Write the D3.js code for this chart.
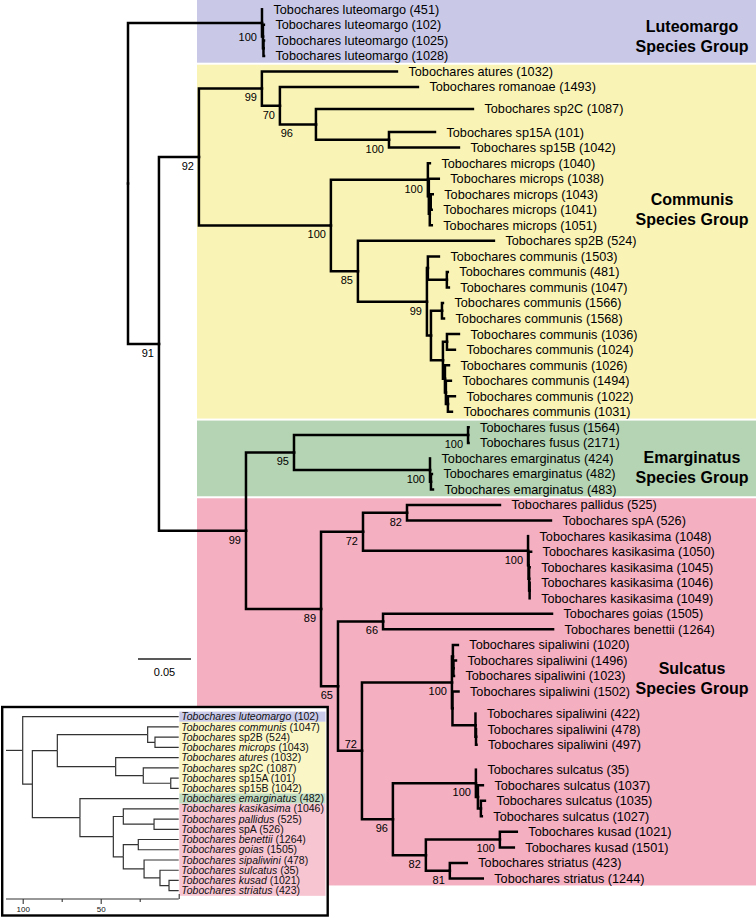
<!DOCTYPE html>
<html><head><meta charset="utf-8">
<script src="https://cdn.jsdelivr.net/npm/d3@7"></script>
<style>
body{margin:0;background:#fff}
svg{display:block;font-family:"Liberation Sans",Arial,Helvetica,sans-serif}
</style>
</head><body>
<svg id="chart" width="756" height="918"></svg>
<script>
// ---------------- DATA ----------------
// main tree rows: [node id, parent id, branch length (subst./site), bootstrap support]
const backboneRoot = [["R", "", 0, null]];
const luteomargoClade = [
  ["LUT", "R", 0.1264, 100],
  ["Tobochares luteomargo (451)", "LUT", 0.0, null],
  ["LUTa", "LUT", 0.0009, null],
  ["Tobochares luteomargo (102)", "LUTa", 0.0009, null],
  ["LUTb", "LUTa", 0.0005, null],
  ["Tobochares luteomargo (1025)", "LUTb", 0.0005, null],
  ["Tobochares luteomargo (1028)", "LUTb", 0.0005, null]
];
const backboneInner = [
  ["N2", "R", 0.0292, 91],
  ["COM", "N2", 0.0377, 92]
];
const communisClade = [
  ["C99", "COM", 0.0594, 99],
  ["Tobochares atures (1032)", "C99", 0.1274, null],
  ["C70", "C99", 0.0170, 70],
  ["Tobochares romanoae (1493)", "C70", 0.1302, null],
  ["C96", "C70", 0.0340, 96],
  ["Tobochares sp2C (1087)", "C96", 0.1481, null],
  ["C15", "C96", 0.0689, 100],
  ["Tobochares sp15A (101)", "C15", 0.0434, null],
  ["Tobochares sp15B (1042)", "C15", 0.0660, null],
  ["C100m", "COM", 0.1245, 100],
  ["MIC", "C100m", 0.0915, 100],
  ["Tobochares microps (1040)", "MIC", 0.0019, null],
  ["Ma", "MIC", 0.0009, null],
  ["Tobochares microps (1038)", "Ma", 0.0094, null],
  ["Mb", "Ma", 0.0009, null],
  ["Mc", "Mb", 0.0009, null],
  ["Tobochares microps (1043)", "Mc", 0.0019, null],
  ["Tobochares microps (1041)", "Mc", 0.0009, null],
  ["Tobochares microps (1051)", "Mb", 0.0019, null],
  ["C85", "C100m", 0.0255, 85],
  ["Tobochares sp2B (524)", "C85", 0.1283, null],
  ["CMN", "C85", 0.0651, 99],
  ["Ca", "CMN", 0.0009, null],
  ["Tobochares communis (1503)", "Ca", 0.0104, null],
  ["Cb", "Ca", 0.0179, null],
  ["Tobochares communis (481)", "Cb", 0.0009, null],
  ["Tobochares communis (1047)", "Cb", 0.0019, null],
  ["Cc", "CMN", 0.0038, null],
  ["Cs", "Cc", 0.0104, null],
  ["Tobochares communis (1566)", "Cs", 0.0009, null],
  ["Tobochares communis (1568)", "Cs", 0.0019, null],
  ["Cd", "Cc", 0.0113, null],
  ["Ce", "Cd", 0.0038, null],
  ["Tobochares communis (1036)", "Ce", 0.0113, null],
  ["Tobochares communis (1024)", "Ce", 0.0075, null],
  ["Cf", "Cd", 0.0019, null],
  ["Tobochares communis (1026)", "Cf", 0.0038, null],
  ["Cg", "Cf", 0.0009, null],
  ["Tobochares communis (1494)", "Cg", 0.0047, null],
  ["Ch", "Cg", 0.0019, null],
  ["Tobochares communis (1022)", "Ch", 0.0066, null],
  ["Tobochares communis (1031)", "Ch", 0.0038, null]
];
const backboneLower = [["ES", "N2", 0.0821, 99]];
const emarginatusClade = [
  ["EM", "ES", 0.0453, 95],
  ["FUS", "EM", 0.1642, 100],
  ["Tobochares fusus (1564)", "FUS", 0.0005, null],
  ["Tobochares fusus (2171)", "FUS", 0.0005, null],
  ["EMA", "EM", 0.1283, 100],
  ["Tobochares emarginatus (424)", "EMA", 0.0, null],
  ["EMb", "EMA", 0.0009, null],
  ["Tobochares emarginatus (482)", "EMb", 0.0009, null],
  ["Tobochares emarginatus (483)", "EMb", 0.0019, null]
];
const sulcatusClade = [
  ["S89", "ES", 0.0708, 89],
  ["S72a", "S89", 0.0396, 72],
  ["S82a", "S72a", 0.0415, 82],
  ["Tobochares pallidus (525)", "S82a", 0.0877, null],
  ["Tobochares spA (526)", "S82a", 0.1358, null],
  ["KAS", "S72a", 0.1557, 100],
  ["Tobochares kasikasima (1048)", "KAS", 0.0, null],
  ["Ka", "KAS", 0.0005, null],
  ["Tobochares kasikasima (1050)", "Ka", 0.0024, null],
  ["Kb", "Ka", 0.0005, null],
  ["Tobochares kasikasima (1045)", "Kb", 0.0005, null],
  ["Kc", "Kb", 0.0005, null],
  ["Tobochares kasikasima (1046)", "Kc", 0.0, null],
  ["Tobochares kasikasima (1049)", "Kc", 0.0, null],
  ["S65", "S89", 0.0160, 65],
  ["S66", "S65", 0.0425, 66],
  ["Tobochares goias (1505)", "S66", 0.1594, null],
  ["Tobochares benettii (1264)", "S66", 0.1604, null],
  ["S72b", "S65", 0.0226, 72],
  ["SIP", "S72b", 0.0849, 100],
  ["Sa", "SIP", 0.0009, null],
  ["Tobochares sipaliwini (1020)", "Sa", 0.0047, null],
  ["Sb", "Sa", 0.0005, null],
  ["Tobochares sipaliwini (1496)", "Sb", 0.0024, null],
  ["Tobochares sipaliwini (1023)", "Sb", 0.0005, null],
  ["Sc", "SIP", 0.0005, null],
  ["Tobochares sipaliwini (1502)", "Sc", 0.0057, null],
  ["Sd", "Sc", 0.0217, null],
  ["Tobochares sipaliwini (422)", "Sd", 0.0, null],
  ["Se", "Sd", 0.0005, null],
  ["Tobochares sipaliwini (478)", "Se", 0.0, null],
  ["Tobochares sipaliwini (497)", "Se", 0.0005, null],
  ["S96", "S72b", 0.0292, 96],
  ["SUL", "S96", 0.0783, 100],
  ["Tobochares sulcatus (35)", "SUL", 0.0, null],
  ["Sula", "SUL", 0.0019, null],
  ["Tobochares sulcatus (1037)", "Sula", 0.0047, null],
  ["Sulb", "Sula", 0.0028, null],
  ["Tobochares sulcatus (1035)", "Sulb", 0.0038, null],
  ["Tobochares sulcatus (1027)", "Sulb", 0.0009, null],
  ["S82b", "S96", 0.0311, 82],
  ["KUS", "S82b", 0.0698, 100],
  ["Tobochares kusad (1021)", "KUS", 0.0160, null],
  ["Tobochares kusad (1501)", "KUS", 0.0132, null],
  ["STR", "S82b", 0.0226, 81],
  ["Tobochares striatus (423)", "STR", 0.0160, null],
  ["Tobochares striatus (1244)", "STR", 0.0311, null]
];

// species groups
const groupNames = ["Luteomargo", "Communis", "Emarginatus", "Sulcatus"];
const groupFirstLeaf = ["Tobochares luteomargo (451)", "Tobochares atures (1032)", "Tobochares fusus (1564)", "Tobochares pallidus (525)"];
const groupLastLeaf = ["Tobochares luteomargo (1028)", "Tobochares communis (1031)", "Tobochares emarginatus (483)", "Tobochares striatus (1244)"];
const scaleBarValue = 0.05;

// inset consensus tree rows: [id, parent, node height on axis]
const insetTree = [
  ["iR", "", 100],
  ["Tobochares luteomargo (102)", "iR", 0],
  ["iN2", "iR", 93.8],
  ["iCOM", "iN2", 77.8],
  ["iC1", "iCOM", 19.9],
  ["Tobochares communis (1047)", "iC1", 0],
  ["iC2", "iC1", 15.2],
  ["Tobochares sp2B (524)", "iC2", 0],
  ["Tobochares microps (1043)", "iC2", 0],
  ["iC3", "iCOM", 40.4],
  ["Tobochares atures (1032)", "iC3", 0],
  ["iC4", "iC3", 22.7],
  ["Tobochares sp2C (1087)", "iC4", 0],
  ["iC5", "iC4", 5.1],
  ["Tobochares sp15A (101)", "iC5", 0],
  ["Tobochares sp15B (1042)", "iC5", 0],
  ["iES", "iN2", 63.3],
  ["Tobochares emarginatus (482)", "iES", 0],
  ["iS", "iES", 41.9],
  ["iS1", "iS", 35.5],
  ["Tobochares kasikasima (1046)", "iS1", 0],
  ["iS2", "iS1", 15.8],
  ["Tobochares pallidus (525)", "iS2", 0],
  ["Tobochares spA (526)", "iS2", 0],
  ["iS3", "iS", 35.5],
  ["iS4", "iS3", 25.9],
  ["Tobochares benettii (1264)", "iS4", 0],
  ["Tobochares goias (1505)", "iS4", 0],
  ["iS5", "iS3", 22.2],
  ["Tobochares sipaliwini (478)", "iS5", 0],
  ["iS6", "iS5", 12],
  ["Tobochares sulcatus (35)", "iS6", 0],
  ["iS7", "iS6", 6.2],
  ["Tobochares kusad (1021)", "iS7", 0],
  ["Tobochares striatus (423)", "iS7", 0]
];
const insetRootStub = 110.7;
const insetRowGroups = ["Luteomargo","Communis","Communis","Communis","Communis","Communis","Communis","Communis",
  "Emarginatus","Sulcatus","Sulcatus","Sulcatus","Sulcatus","Sulcatus","Sulcatus","Sulcatus","Sulcatus","Sulcatus"];
const insetTicks = [100, 75, 50, 25, 0];
const insetTickLabels = ["100", "", "50", "", ""];

// ---------------- LAYOUT / STYLE ----------------
const bandColor = {Luteomargo:"#c9c9e7", Communis:"#faf3b6", Emarginatus:"#b5d4b3", Sulcatus:"#f4afc1"};
const insetBandColor = {Luteomargo:"#c9c9ea", Communis:"#fbf6c6", Emarginatus:"#c3ddc3", Sulcatus:"#f7c4d1"};
const groupLabelBaseline = {Luteomargo:32, Communis:205, Emarginatus:463, Sulcatus:674};
const labelNudge = {LUT:[0,5], C96:[-18,0], S72b:[0,-16]};
const extraGap = new Map([["Tobochares romanoae (1493)",6.5],["Tobochares sp2C (1087)",7.5],
  ["Tobochares sipaliwini (1502)",6.5],["Tobochares sipaliwini (497)",9.5]]);

const svg = d3.select("#chart");
svg.append("rect").attr("width",756).attr("height",918).attr("fill","#fff");

const rows = [].concat(backboneRoot, luteomargoClade, backboneInner, communisClade, backboneLower, emarginatusClade, sulcatusClade);
const root = d3.stratify().id(d => d[0]).parentId(d => d[1] || null)(rows);

// x: cumulative branch length
root.eachBefore(n => { n.len = (n.parent ? n.parent.len : 0) + n.data[2]; });
const x = d3.scaleLinear().domain([0, scaleBarValue]).range([128, 181]);

// y: leaf rows, internal nodes centred on children
let yc = 9.3;
const ROW = 15.54;
root.leaves().forEach(l => { l.y = yc; yc += ROW + (extraGap.get(l.id) || 0); });
root.eachAfter(n => { if (n.children) n.y = (n.children[0].y + n.children[n.children.length - 1].y) / 2; });
const leafById = new Map(root.leaves().map(l => [l.id, l]));

// background bands
const bandG = svg.append("g");
groupNames.forEach((g, i) => {
  const first = leafById.get(groupFirstLeaf[i]), last = leafById.get(groupLastLeaf[i]);
  const prev = i > 0 ? leafById.get(groupLastLeaf[i - 1]) : null;
  const next = i < groupNames.length - 1 ? leafById.get(groupFirstLeaf[i + 1]) : null;
  const top = prev ? (prev.y + first.y) / 2 + 1 : 0;
  const bottom = next ? (last.y + next.y) / 2 - 1 : last.y + 7;
  bandG.append("rect").attr("x", 197).attr("y", top).attr("width", 756 - 197)
    .attr("height", bottom - top).attr("fill", bandColor[g]);
  const t = bandG.append("text").attr("text-anchor", "middle").attr("font-weight", "bold")
    .attr("font-size", 16).attr("fill", "#000");
  t.append("tspan").attr("x", 692).attr("y", groupLabelBaseline[g]).text(g);
  t.append("tspan").attr("x", 692).attr("y", groupLabelBaseline[g] + 20).text("Species Group");
});

// tree branches
const treeG = svg.append("g").attr("fill", "none").attr("stroke", "#000")
  .attr("stroke-width", 2.5).attr("stroke-linecap", "square").attr("stroke-linejoin", "miter");
treeG.selectAll("path").data(root.links()).join("path")
  .attr("d", l => `M${x(l.source.len)},${l.source.y}V${l.target.y}H${x(l.target.len)}`);

// leaf labels
svg.append("g").attr("font-size", 12.7).attr("fill", "#000")
  .selectAll("text").data(root.leaves()).join("text")
  .attr("x", d => x(d.len) + 11.5).attr("y", d => d.y).attr("dy", "0.35em").text(d => d.id);

// support values
svg.append("g").attr("font-size", 11).attr("fill", "#000").attr("text-anchor", "end")
  .selectAll("text").data(root.descendants().filter(d => d.data[3] != null)).join("text")
  .attr("x", d => x(d.len) - 5 + (labelNudge[d.id] ? labelNudge[d.id][0] : 0))
  .attr("y", d => d.y + 9 + (labelNudge[d.id] ? labelNudge[d.id][1] : 0))
  .attr("dy", "0.35em").text(d => d.data[3]);

// scale bar
const sbx = 138, sby = 659, sbw = x(scaleBarValue) - x(0);
svg.append("line").attr("x1", sbx).attr("x2", sbx + sbw).attr("y1", sby).attr("y2", sby)
  .attr("stroke", "#222").attr("stroke-width", 1.3);
svg.append("text").attr("x", sbx + sbw / 2).attr("y", 672).attr("dy", "0.35em")
  .attr("text-anchor", "middle").attr("font-size", 11).text(String(scaleBarValue));

// ---------------- INSET ----------------
const inset = svg.append("g");
inset.append("rect").attr("x", 2.2).attr("y", 707).attr("width", 325.5).attr("height", 208.5)
  .attr("fill", "#fff").attr("stroke", "#000").attr("stroke-width", 2.4);

const iroot = d3.stratify().id(d => d[0]).parentId(d => d[1] || null)(insetTree);
const xi = d3.scaleLinear().domain([100, 0]).range([22.7, 178.7]);
const IROW0 = 716.7, IROW = 10.235;
iroot.leaves().forEach((l, i) => { l.y = IROW0 + i * IROW; l.row = i; });
iroot.eachAfter(n => { if (n.children) n.y = (n.children[0].y + n.children[n.children.length - 1].y) / 2; });

// row highlight bands
const ileaves = iroot.leaves();
let start = 0;
for (let i = 1; i <= ileaves.length; i++) {
  if (i === ileaves.length || insetRowGroups[i] !== insetRowGroups[start]) {
    inset.append("rect").attr("x", 179.3).attr("width", 146.2)
      .attr("y", ileaves[start].y - IROW / 2).attr("height", (i - start) * IROW)
      .attr("fill", insetBandColor[insetRowGroups[start]]);
    start = i;
  }
}

const itree = inset.append("g").attr("fill", "none").attr("stroke", "#333").attr("stroke-width", 1.2);
itree.selectAll("path").data(iroot.links()).join("path")
  .attr("d", l => `M${xi(l.source.data[2])},${l.source.y}V${l.target.y}H${xi(l.target.data[2])}`);
itree.append("path").attr("d", `M${xi(insetRootStub)},${iroot.y}H${xi(100)}`);

const ilab = inset.append("g").attr("font-size", 10.5).attr("fill", "#111");
ileaves.forEach(l => {
  const m = l.id.match(/^(\S+) (\S+) (.*)$/);
  const t = ilab.append("text").attr("x", xi(0) + 2.6).attr("y", l.y).attr("dy", "0.35em");
  t.append("tspan").attr("font-style", "italic").text(m[1] + " ");
  t.append("tspan").attr("font-style", /^sp[0-9A-Z]/.test(m[2]) ? "normal" : "italic").text(m[2]);
  t.append("tspan").text(" " + m[3]);
});

const axisG = inset.append("g").attr("transform", "translate(0,899)")
  .call(d3.axisBottom(xi).tickValues(insetTicks).tickFormat((d, i) => insetTickLabels[i])
    .tickSizeInner(5).tickSizeOuter(0).tickPadding(2));
axisG.select(".domain").remove();
axisG.append("line").attr("x1", xi(insetRootStub)).attr("x2", xi(0)).attr("stroke", "#333").attr("stroke-width", 1.2);
axisG.selectAll(".tick line").attr("stroke", "#333").attr("stroke-width", 1.1)
  .attr("y2", (d, i) => insetTickLabels[i] ? 5 : (d === 0 ? -5 : 3));
axisG.selectAll(".tick text").attr("font-size", 8).attr("fill", "#111")
  .attr("font-family", "'Liberation Sans',Arial,sans-serif");
</script>
</body></html>
